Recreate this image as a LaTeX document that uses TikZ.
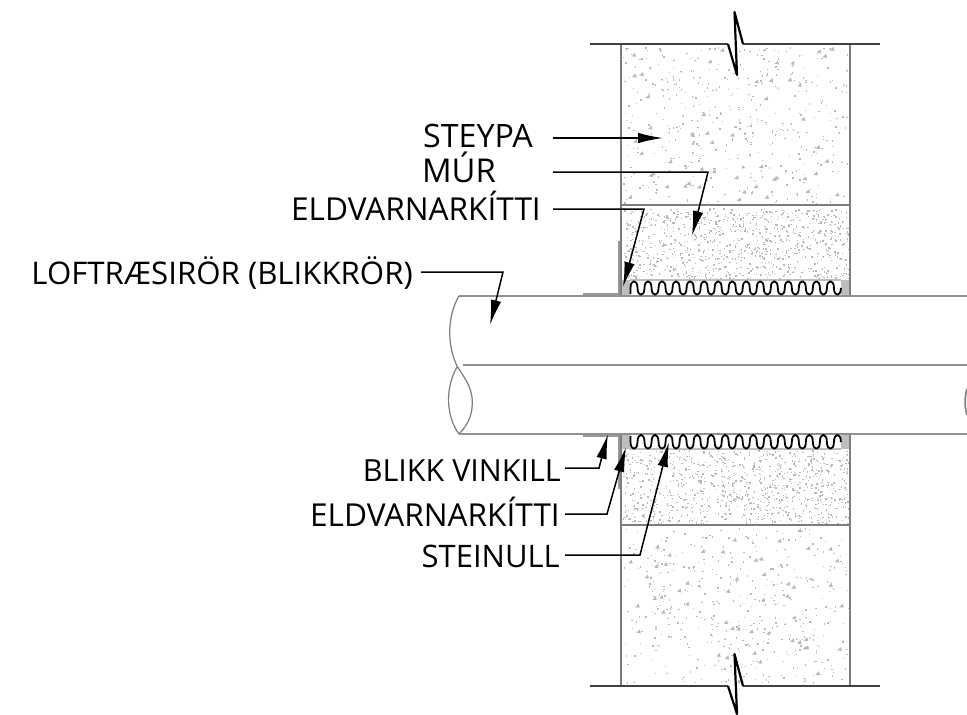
\documentclass[tikz,border=0pt]{standalone}
\usepackage{fontspec}
\setmainfont{Open Sans}
\usetikzlibrary{arrows.meta}
\definecolor{wallgray}{RGB}{125,125,125}
\definecolor{dotgray}{RGB}{185,185,185}
\definecolor{sealgray}{RGB}{190,190,190}
\tikzset{
  x=1pt,y=-1pt,
  wall/.style={draw=wallgray,line width=1.7pt},
  pipeline/.style={draw=wallgray!85,line width=1.9pt},
  thinpipe/.style={draw=wallgray,line width=1.2pt},
  slab/.style={draw=black!75,line width=2.2pt},
  breakline/.style={draw=black,line width=2.2pt,line join=round},
  leader/.style={draw=black,line width=1.5pt,-{Latex[length=25pt,width=10.5pt]}},
  lab/.style={inner sep=0pt,font=\fontsize{#1}{36pt}\selectfont},
  lab/.default=31pt,
}
\newcommand{\stipple}[6]{%
  \pgfmathsetseed{#6}
  \foreach \i in {1,...,#5}{
    \pgfmathsetmacro{\px}{#1+#3*rnd}
    \pgfmathsetmacro{\py}{#2+#4*rnd}
    \fill[dotgray] (\px,\py) rectangle ++(1.4,1.4);
  }
}
\newcommand{\chunks}[6]{%
  \pgfmathsetseed{#6}
  \foreach \i in {1,...,#5}{
    \pgfmathsetmacro{\px}{#1+#3*rnd}
    \pgfmathsetmacro{\py}{#2+#4*rnd}
    \fill[dotgray] (\px,\py) -- ++(3.5,-3.5) -- ++(1,4) -- cycle;
  }
}
\begin{document}
\begin{tikzpicture}
\useasboundingbox (0,0) rectangle (967,715);
% stipple
\stipple{623}{47}{226}{156}{440}{11}
\chunks{623}{49}{221}{154}{50}{12}
\stipple{623}{208}{226}{71}{900}{13}
\stipple{623}{450}{226}{73}{900}{14}
\stipple{623}{528}{226}{155}{440}{15}
\chunks{623}{530}{221}{153}{50}{16}
% seals
\fill[sealgray] (621,280) rectangle (630,295);
\fill[sealgray] (841,280) rectangle (850,295);
\fill[sealgray] (621,435) rectangle (630,449);
\fill[sealgray] (841,435) rectangle (850,449);
% walls
\draw[wall] (621,44) -- (621,295) (850,44) -- (850,295);
\draw[wall] (621,435) -- (621,686) (850,435) -- (850,686);
\draw[draw=wallgray,line width=1.3pt] (621,205) -- (850,205);
\draw[draw=wallgray,line width=1.3pt] (621,525) -- (850,525);
\draw[draw=sealgray,line width=1.3pt] (630,280) -- (841,280);
\draw[draw=sealgray,line width=1.3pt] (630,449) -- (841,449);
% angle profile
\draw[draw=wallgray!80,line width=1.5pt] (619,241) -- (619,294) -- (583,294);
\draw[draw=wallgray!80,line width=1.5pt] (619,489) -- (619,436) -- (583,436);
% slab lines and breaks
\draw[slab] (590,44) -- (728,44);
\draw[slab] (743,44) -- (880,44);
\draw[slab] (590,686) -- (728,686);
\draw[slab] (743,686) -- (880,686);
\draw[breakline] (728,44) -- (737,75) -- (734.5,12) -- (743,44);
\draw[breakline] (728,686) -- (737,714) -- (734.5,654) -- (743,686);
% pipe
\draw[pipeline] (459,296) -- (967,296);
\draw[pipeline] (463,365) -- (967,365);
\draw[pipeline] (459,434) -- (967,434);
\draw[thinpipe] (459,296) .. controls (447,316) and (447,345) .. (457,366) .. controls (466,380) and (474,390) .. (472,408) .. controls (471,419) and (465,428) .. (459,434);
\draw[thinpipe] (459,434) .. controls (447,418) and (444,390) .. (457,367);
\draw[draw=wallgray,line width=1.6pt] (967,389) .. controls (964.5,396) and (964.5,408) .. (967,415);
% corrugated rock wool
\draw[line width=1.8pt,line join=round] (630.5,294) -- (630.5,288)
  \foreach \k in {0,...,14}{
    \pgfextra{\pgfmathsetmacro{\bx}{630.5+14.03*\k}}
    .. controls (\bx,279) and (\bx+7,279) .. (\bx+7,288)
    .. controls (\bx+7,297) and (\bx+14,297) .. (\bx+14,288)
  };
\draw[line width=1.8pt,line join=round] (630.5,436) -- (630.5,442)
  \foreach \k in {0,...,14}{
    \pgfextra{\pgfmathsetmacro{\bx}{630.5+14.03*\k}}
    .. controls (\bx,451) and (\bx+7,451) .. (\bx+7,442)
    .. controls (\bx+7,432.5) and (\bx+14,432.5) .. (\bx+14,442)
  };
% labels
\node[lab=32.2pt,anchor=base east] (steypa) at (533,147) {STEYPA};
\node[lab=32.8pt,anchor=base east] (mur) at (496,182) {MÚR};
\node[lab=31.6pt,anchor=base east] (eldtop) at (541,220) {ELDVARNARKÍTTI};
\node[lab=31.2pt,anchor=base east] (loft) at (413,284) {LOFTRÆSIRÖR (BLIKKRÖR)};
\node[lab=30.5pt,anchor=base east] (blikk) at (561,481) {BLIKK VINKILL};
\node[lab=31.6pt,anchor=base east] (eldbot) at (560,526) {ELDVARNARKÍTTI};
\node[lab=31pt,anchor=base east] (stein) at (560,567) {STEINULL};
% leader ends
\coordinate (s1) at (553,138); \coordinate (t1) at (663,138);
\coordinate (s2) at (553,172); \coordinate (k2) at (708,172); \coordinate (t2) at (692,236);
\coordinate (s3) at (553,209); \coordinate (k3) at (644,209); \coordinate (t3) at (623,287);
\coordinate (s4) at (421,272); \coordinate (k4) at (503,272); \coordinate (t4) at (490,325);
\coordinate (s5) at (565,468); \coordinate (k5) at (599,468); \coordinate (t5) at (608,434);
\coordinate (s6) at (565,514); \coordinate (k6) at (607,514); \coordinate (t6) at (626,447);
\coordinate (s7) at (565,555); \coordinate (k7) at (640,555); \coordinate (t7) at (669,442);
\draw[leader] (s1) -- (t1);
\draw[leader] (s2) -- (k2) -- (t2);
\draw[leader] (s3) -- (k3) -- (t3);
\draw[leader] (s4) -- (k4) -- (t4);
\draw[leader] (s5) -- (k5) -- (t5);
\draw[leader] (s6) -- (k6) -- (t6);
\draw[leader] (s7) -- (k7) -- (t7);
\end{tikzpicture}
\end{document}
